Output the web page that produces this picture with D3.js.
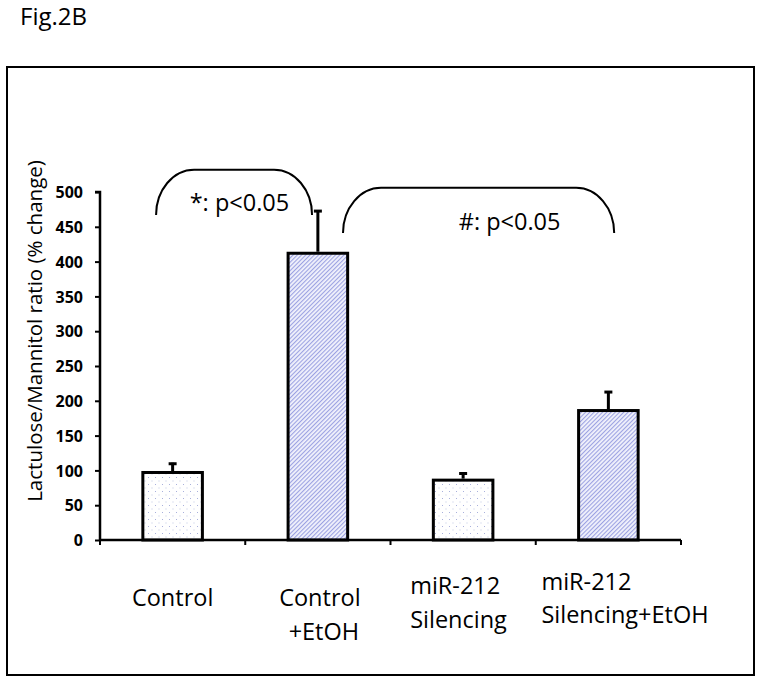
<!DOCTYPE html>
<html>
<head>
<meta charset="utf-8">
<script src="https://cdn.jsdelivr.net/npm/d3@7"></script>
<style>
  html, body { margin: 0; padding: 0; background: #fff; }
  svg { display: block; }
  text { font-family: "Open Sans", "Noto Sans", sans-serif; fill: #000; }
</style>
</head>
<body>
<svg id="chart" width="762" height="682"></svg>
<script>
// ---- data ----
const categories = ["Control", "Control+EtOH", "miR-212 Silencing", "miR-212 Silencing+EtOH"];
const categoryLabelLines = [["Control"], ["Control", "+EtOH"], ["miR-212", "Silencing"], ["miR-212", "Silencing+EtOH"]];
const values = [97, 412, 86, 186];
const errors = [14, 62, 11, 28];
const fills = ["dots", "hatch", "dots", "hatch"];
const yTicks = [0, 50, 100, 150, 200, 250, 300, 350, 400, 450, 500];
const yTitle = "Lactulose/Mannitol ratio (% change)";
const figTitle = "Fig.2B";
// significance annotations: span in category-index units, heights in data units
const annotations = [
  { label: "*: p<0.05", x0: 0.386, x1: 1.46, top: 532, bottom: 467, textX: 0.96, textY: 473 },
  { label: "#: p<0.05", x0: 1.673, x1: 3.54, top: 506, bottom: 441, textX: 2.82, textY: 446 }
];

// ---- layout ----
const svg = d3.select("#chart");
const axisLeft = 100, axisRight = 681, y0px = 540, y500px = 192;

const x = d3.scaleBand().domain(categories).range([axisLeft, axisRight]).paddingInner(0.59).paddingOuter(0.295);
const xc = d3.scaleLinear().domain([0, categories.length]).range([axisLeft, axisRight]);
const y = d3.scaleLinear().domain([0, 500]).range([y0px, y500px]);

// patterns
const defs = svg.append("defs");
const pd = defs.append("pattern").attr("id", "dots").attr("patternUnits", "userSpaceOnUse")
  .attr("width", 7).attr("height", 7);
pd.append("rect").attr("width", 7).attr("height", 7).attr("fill", "#fff");
pd.append("rect").attr("x", 1).attr("y", 1).attr("width", 1).attr("height", 1).attr("fill", "#a9b0dc");
pd.append("rect").attr("x", 4.5).attr("y", 4.5).attr("width", 1).attr("height", 1).attr("fill", "#c2c7e6");

const ph = defs.append("pattern").attr("id", "hatch").attr("patternUnits", "userSpaceOnUse")
  .attr("width", 3).attr("height", 3).attr("patternTransform", "rotate(45)");
ph.append("rect").attr("width", 3).attr("height", 3).attr("fill", "#f1f2fc");
ph.append("rect").attr("x", 0).attr("y", 0).attr("width", 1.1).attr("height", 3).attr("fill", "#9ca2e2");

// outer frame
svg.append("rect").attr("x", 7).attr("y", 67).attr("width", 747).attr("height", 608)
  .attr("fill", "none").attr("stroke", "#000").attr("stroke-width", 2);

// figure title
svg.append("text").attr("x", 20).attr("y", 25).attr("font-size", 24).text(figTitle);

// bars
const bw = x.bandwidth();
svg.append("g").selectAll("rect").data(values).join("rect")
  .attr("x", (d, i) => x(categories[i]))
  .attr("y", d => y(d))
  .attr("width", bw)
  .attr("height", d => y(0) - y(d))
  .attr("fill", (d, i) => `url(#${fills[i]})`)
  .attr("stroke", "#000").attr("stroke-width", 3);

// error bars (upper only)
const eg = svg.append("g").attr("stroke", "#000");
values.forEach((v, i) => {
  const cx = x(categories[i]) + bw / 2;
  eg.append("line").attr("x1", cx).attr("x2", cx).attr("y1", y(v) - 1.5).attr("y2", y(v + errors[i]))
    .attr("stroke-width", 3);
  eg.append("line").attr("x1", cx - 4).attr("x2", cx + 4).attr("y1", y(v + errors[i]) + 1).attr("y2", y(v + errors[i]) + 1)
    .attr("stroke-width", 3);
});

// y axis
const yAxis = svg.append("g").attr("transform", `translate(${axisLeft},0)`)
  .call(d3.axisLeft(y).tickValues(yTicks).tickSize(5).tickPadding(12));
yAxis.select(".domain").attr("stroke-width", 2.5).attr("d", `M-0,${y(0)}V${y(500)}H-5`);
yAxis.selectAll(".tick line").attr("stroke-width", 2);
yAxis.selectAll(".tick text").attr("font-family", "'Liberation Sans', Arial, sans-serif")
  .attr("font-weight", "bold").attr("font-size", 16).attr("dy", "0.36em");

// x axis with ticks at category boundaries
const xAxisG = svg.append("g").attr("transform", `translate(0,${y0px})`);
xAxisG.append("line").attr("x1", axisLeft).attr("x2", axisRight).attr("stroke", "#000").attr("stroke-width", 2.5);
xAxisG.selectAll("line.tk").data(d3.range(categories.length + 1)).join("line").attr("class", "tk")
  .attr("x1", d => xc(d)).attr("x2", d => xc(d)).attr("y1", 0).attr("y2", 5)
  .attr("stroke", "#000").attr("stroke-width", 2);

// category labels
const labelLayout = [
  { anchor: "middle", dx: 0, y: [606] },
  { anchor: "middle", dx: 2, y: [606, 640] },
  { anchor: "start", dx: -53, y: [594, 628] },
  { anchor: "start", dx: -67, y: [590, 623] }
];
categoryLabelLines.forEach((lines, i) => {
  const L = labelLayout[i];
  const cx = x(categories[i]) + bw / 2;
  lines.forEach((ln, j) => {
    let tx = cx + L.dx;
    if (i === 1 && j === 1) tx += 4;
    svg.append("text").attr("x", tx).attr("y", L.y[j]).attr("text-anchor", L.anchor)
      .attr("font-size", 23.5).text(ln);
  });
});

// y title
svg.append("text").attr("transform", `translate(42,${331}) rotate(-90)`)
  .attr("text-anchor", "middle").attr("font-size", 20.5).text(yTitle);

// significance brackets
annotations.forEach(a => {
  const X0 = xc(a.x0), X1 = xc(a.x1), T = y(a.top), B = y(a.bottom);
  const rx = 38, ry = B - T;
  const p = d3.path();
  p.moveTo(X0, B);
  p.bezierCurveTo(X0, B - ry * 0.55, X0 + rx * 0.45, T, X0 + rx, T);
  p.lineTo(X1 - rx, T);
  p.bezierCurveTo(X1 - rx * 0.45, T, X1, B - ry * 0.55, X1, B);
  svg.append("path").attr("d", p.toString()).attr("fill", "none").attr("stroke", "#000").attr("stroke-width", 2);
  svg.append("text").attr("x", xc(a.textX)).attr("y", y(a.textY)).attr("text-anchor", "middle")
    .attr("font-size", 23.5).text(a.label);
});
</script>
</body>
</html>
